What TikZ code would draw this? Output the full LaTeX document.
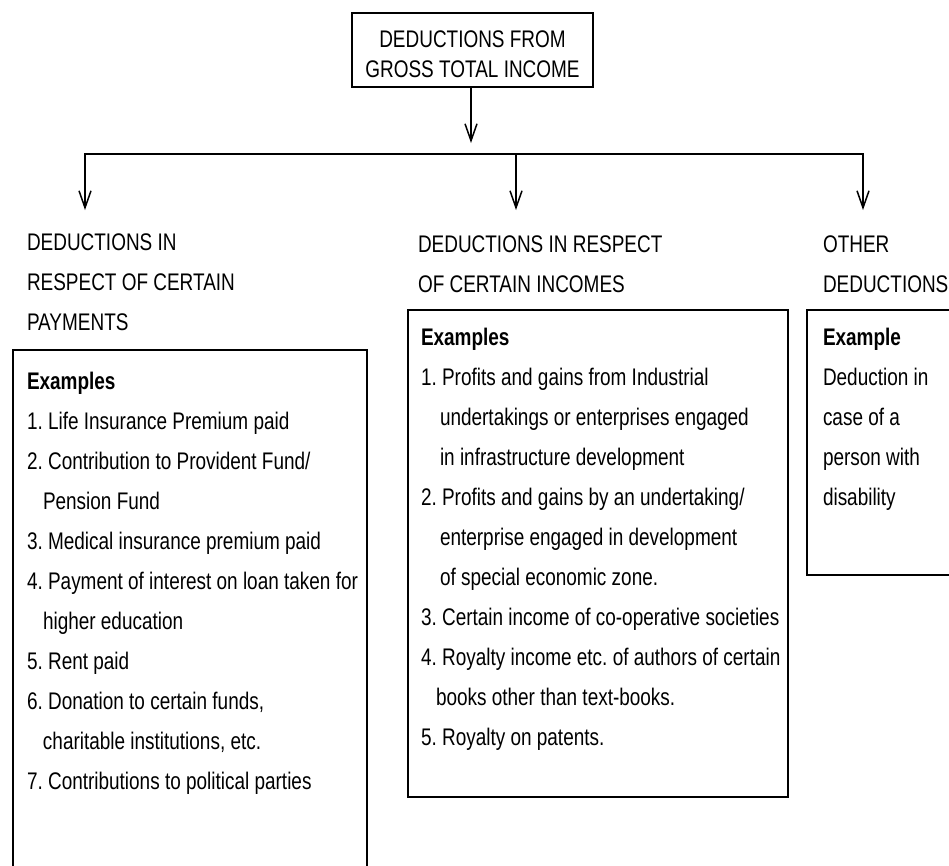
\documentclass[tikz,border=0pt]{standalone}
\usepackage{fontspec}
\setmainfont{Liberation Sans}[FakeStretch=0.79]
\usetikzlibrary{arrows.meta}
\frenchspacing
\begin{document}
\begin{tikzpicture}[x=1pt,y=-1pt,
  every node/.style={font=\fontsize{24}{40}\selectfont, inner sep=0pt, outer sep=0pt},
  frame/.style={draw, line width=1.5pt, anchor=north west},
  lbl/.style={anchor=base west, align=left},
  conn/.style={line width=1.5pt},
  arr/.style={conn, -{Straight Barb[length=17pt,width=12pt,line width=1.5pt]}}]
\useasboundingbox (0,0) rectangle (949,865);
\clip (0,0) rectangle (949,865);
% root
\node[draw, line width=1.8pt, minimum width=241pt, minimum height=74pt, align=center,
      font=\fontsize{24}{30}\selectfont] (root) at (472.5,50) {\rule{0pt}{25pt}DEDUCTIONS FROM\\GROSS TOTAL INCOME};
\coordinate (rootTip) at (471,143);
\draw[arr] (root.south -| rootTip) -- (rootTip);
% bar
\coordinate (bL) at (85,154);
\coordinate (bM) at (516,154);
\coordinate (bR) at (863,154);
\coordinate (tL) at (85,210);
\coordinate (tM) at (516,210);
\coordinate (tR) at (863,210);
\draw[arr] (bM) -- (bL) -- (tL);
\draw[arr] (bM) -- (bR) -- (tR);
\draw[arr] (bM) -- (tM);
% labels (anchor = baseline of last line)
\node[lbl] (lab1) at (27,330) {DEDUCTIONS IN\\RESPECT OF CERTAIN\\PAYMENTS};
\node[lbl] (lab2) at (418,292) {DEDUCTIONS IN RESPECT\\OF CERTAIN INCOMES};
\node[lbl] (lab3) at (823,292) {OTHER\\DEDUCTIONS};
% left box
\node[frame, minimum width=354pt, minimum height=560pt] (lbox) at (13,350) {};
\node[lbl] (ltext) at (27,789) {\textbf{Examples}\\
1. Life Insurance Premium paid\\
2. Contribution to Provident Fund/\\
\hspace*{16pt}Pension Fund\\
3. Medical insurance premium paid\\
4. Payment of interest on loan taken for\\
\hspace*{16pt}higher education\\
5. Rent paid\\
6. Donation to certain funds,\\
\hspace*{16pt}charitable institutions, etc.\\
7. Contributions to political parties};
% middle box
\node[frame, minimum width=380pt, minimum height=487pt] (mbox) at (408,310) {};
\node[lbl] (mtext) at (421,745) {\textbf{Examples}\\
1. Profits and gains from Industrial\\
\hspace*{19pt}undertakings or enterprises engaged\\
\hspace*{19pt}in infrastructure development\\
2. Profits and gains by an undertaking/\\
\hspace*{19pt}enterprise engaged in development\\
\hspace*{19pt}of special economic zone.\\
3. Certain income of co-operative societies\\
4. Royalty income etc. of authors of certain\\
\hspace*{15pt}books other than text-books.\\
5. Royalty on patents.};
% right box
\node[frame, minimum width=200pt, minimum height=265pt] (rbox) at (807,310) {};
\node[lbl] (rtext) at (823,505) {\textbf{Example}\\
Deduction in\\
case of a\\
person with\\
disability};
\end{tikzpicture}
\end{document}
